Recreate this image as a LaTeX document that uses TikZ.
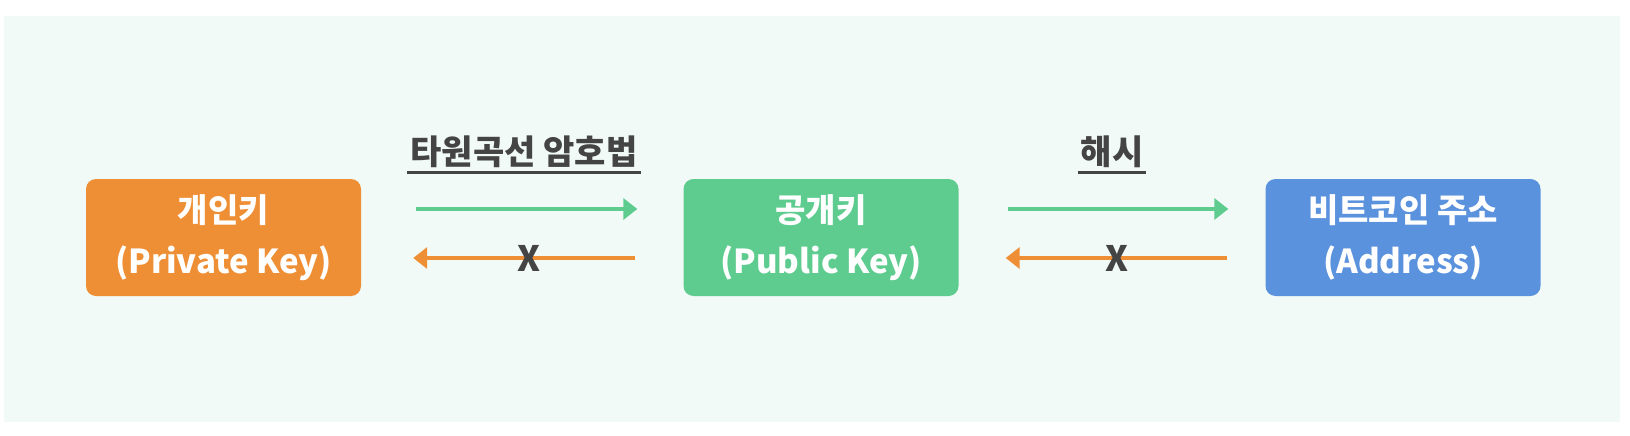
\documentclass[tikz,border=0pt]{standalone}
\usepackage{fontspec}
\setmainfont{Noto Sans CJK KR}
\usetikzlibrary{arrows.meta}
\definecolor{bgc}{HTML}{F1FAF7}
\definecolor{orng}{HTML}{EF8F35}
\definecolor{grn}{HTML}{5ECC8F}
\definecolor{blu}{HTML}{5B92DD}
\definecolor{dgray}{HTML}{444444}
\tikzset{
  keybox/.style={rounded corners=10pt, minimum width=275pt, minimum height=117pt,
    inner sep=0pt, text=white, align=center,
    font=\fontsize{33}{51}\selectfont\bfseries},
  garrow/.style={draw=grn, line width=4.5pt, -{Triangle[length=14pt,width=21pt]}},
  oarrow/.style={draw=orng, line width=4.5pt, -{Triangle[length=14pt,width=21pt]}},
  xmark/.style={text=dgray, font=\fontsize{35}{35}\selectfont\bfseries, inner sep=0pt},
  toplabel/.style={text=dgray, font=\fontsize{34}{34}\selectfont\bfseries, inner sep=0pt, anchor=base},
  uline/.style={draw=dgray, line width=2.5pt}
}
\begin{document}
\begin{tikzpicture}[x=1pt,y=-1pt]
\useasboundingbox (0,0) rectangle (1630,436);
\fill[white] (0,0) rectangle (1630,436);
\fill[bgc] (4,16) rectangle (1620,422);

\node[keybox, fill=orng] (a) at (223.5,237.5) {개인키\\(Private Key)};
\node[keybox, fill=grn] (b) at (821,237.5) {공개키\\(Public Key)};
\node[keybox, fill=blu] (c) at (1403,237.5) {비트코인 주소\\(Address)};

\draw[garrow] ([xshift=55pt,yshift=28.5pt]a.east) -- ([xshift=-46pt,yshift=28.5pt]b.west);
\draw[oarrow] ([xshift=-48pt,yshift=-20.5pt]b.west) -- ([xshift=52pt,yshift=-20.5pt]a.east)
  node[xmark, pos=0.48] (x1) {X};

\draw[garrow] ([xshift=49pt,yshift=28.5pt]b.east) -- ([xshift=-37pt,yshift=28.5pt]c.west);
\draw[oarrow] ([xshift=-38pt,yshift=-20.5pt]c.west) -- ([xshift=47pt,yshift=-20.5pt]b.east)
  node[xmark, pos=0.5] (x2) {X};

\node[toplabel] (l1) at (524,164) {타원곡선 암호법};
\node[toplabel] (l2) at (1112,164) {해시};
\coordinate (u1a) at ([xshift=-3pt]l1.west |- 0,172.5);
\coordinate (u1b) at ([xshift=3pt]l1.east |- 0,172.5);
\coordinate (u2a) at ([xshift=-3pt]l2.west |- 0,172.5);
\coordinate (u2b) at ([xshift=3pt]l2.east |- 0,172.5);
\draw[uline] (u1a) -- (u1b);
\draw[uline] (u2a) -- (u2b);
\end{tikzpicture}
\end{document}
